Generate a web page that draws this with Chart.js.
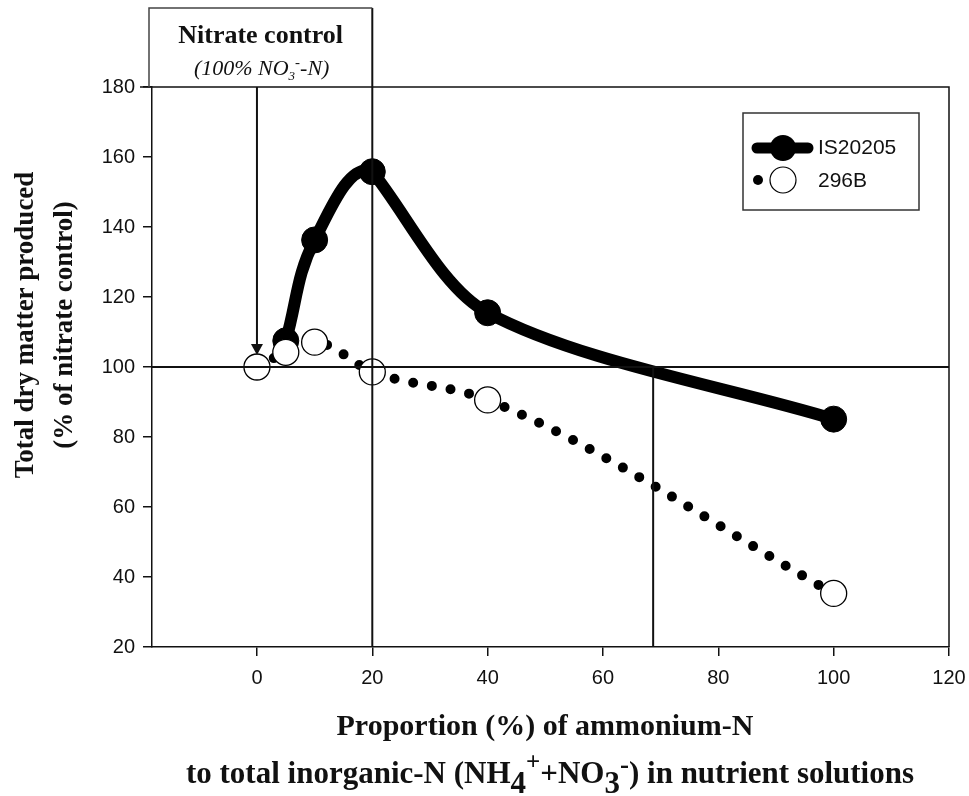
<!DOCTYPE html>
<html>
<head>
<meta charset="utf-8">
<script src="https://cdn.jsdelivr.net/npm/chart.js@4.4.1/dist/chart.umd.min.js"></script>
<style>
  html, body { margin: 0; padding: 0; background: #fff; }
  canvas { display: block; }
</style>
</head>
<body>
<canvas id="chart" width="969" height="796"></canvas>
<script>
// values
const proportionIS = [5, 10, 20, 40, 100];
const dryMatterIS = [107.5, 136.3, 155.8, 115.5, 85.1];
const proportion296 = [0, 5, 10, 20, 40, 100];
const dryMatter296 = [100, 104.2, 107.1, 98.6, 90.6, 35.3];
const seriesNames = ["IS20205", "296B"];
const xTicks = [0, 20, 40, 60, 80, 100, 120];
const yTicks = [20, 40, 60, 80, 100, 120, 140, 160, 180];
const controlLevel = 100;     // nitrate control = 100 %
const peakProportion = 20;    // vertical line through the peak
const crossProportion = 68.7; // IS20205 falls back to control level here
const peakIndex = 2;          // IS20205 curve is drawn in two pieces split at the peak

const SERIF = "'Liberation Serif', 'Times New Roman', serif";
const SANS = "'Liberation Sans', Arial, sans-serif";

// draws text pieces side by side (for sub/superscripts)
function drawRich(ctx, parts, x, y, align) {
  let total = 0;
  parts.forEach((p) => {
    ctx.font = p[1];
    total += ctx.measureText(p[0]).width;
  });
  let cx = align === "center" ? x - total / 2 : x;
  ctx.textAlign = "left";
  ctx.textBaseline = "alphabetic";
  parts.forEach((p) => {
    ctx.font = p[1];
    ctx.fillText(p[0], cx, y + (p[2] || 0));
    cx += ctx.measureText(p[0]).width;
  });
}

const overlay = {
  id: "overlay",
  beforeDraw(chart) {
    const ctx = chart.ctx;
    ctx.save();
    ctx.fillStyle = "#fff";
    ctx.fillRect(0, 0, chart.width, chart.height);
    ctx.restore();
  },
  afterDatasetsDraw(chart) {
    const ctx = chart.ctx;
    const area = chart.chartArea;
    const xs = chart.scales.x;
    const ys = chart.scales.y;
    const y100 = ys.getPixelForValue(controlLevel);
    const x0 = xs.getPixelForValue(0);
    const x20 = xs.getPixelForValue(peakProportion);
    const xCross = xs.getPixelForValue(crossProportion);

    ctx.save();
    ctx.strokeStyle = "#111";
    ctx.lineWidth = 1.5;

    // frame top and right
    ctx.beginPath();
    ctx.moveTo(area.left - 12, area.top);
    ctx.lineTo(area.right, area.top);
    ctx.lineTo(area.right, area.bottom);
    ctx.stroke();

    // reference lines
    ctx.lineWidth = 2;
    ctx.beginPath();
    ctx.moveTo(area.left, y100);
    ctx.lineTo(area.right, y100);
    ctx.moveTo(x20, 8);
    ctx.lineTo(x20, area.bottom);
    ctx.moveTo(xCross, y100);
    ctx.lineTo(xCross, area.bottom);
    ctx.stroke();

    // nitrate control box
    ctx.strokeStyle = "#444";
    ctx.lineWidth = 1.5;
    ctx.beginPath();
    ctx.moveTo(x20, 8);
    ctx.lineTo(149, 8);
    ctx.lineTo(149, area.top);
    ctx.stroke();
    ctx.fillStyle = "#111";
    ctx.font = "bold 26px " + SERIF;
    ctx.textAlign = "center";
    ctx.fillText("Nitrate control", (149 + x20) / 2, 43);
    drawRich(ctx, [
      ["(100% NO", "italic 22px " + SERIF],
      ["3", "italic 13px " + SERIF, 5],
      ["-", "italic 15px " + SERIF, -8],
      ["-N)", "italic 22px " + SERIF]
    ], (149 + x20) / 2 + 1, 75, "center");

    // arrow down to the control point
    const tip = y100 - 12;
    ctx.strokeStyle = "#111";
    ctx.lineWidth = 2;
    ctx.beginPath();
    ctx.moveTo(x0, area.top);
    ctx.lineTo(x0, tip - 10);
    ctx.stroke();
    ctx.beginPath();
    ctx.moveTo(x0 - 6, tip - 11);
    ctx.lineTo(x0 + 6, tip - 11);
    ctx.lineTo(x0, tip);
    ctx.closePath();
    ctx.fill();

    // legend
    ctx.fillStyle = "#fff";
    ctx.fillRect(743, 113, 176, 97);
    ctx.strokeStyle = "#333";
    ctx.lineWidth = 1.5;
    ctx.strokeRect(743, 113, 176, 97);
    ctx.strokeStyle = "#000";
    ctx.lineWidth = 11;
    ctx.lineCap = "round";
    ctx.beginPath();
    ctx.moveTo(757, 148);
    ctx.lineTo(808, 148);
    ctx.stroke();
    ctx.fillStyle = "#000";
    ctx.beginPath();
    ctx.arc(783, 148, 13, 0, Math.PI * 2);
    ctx.fill();
    ctx.beginPath();
    ctx.arc(758, 180, 5, 0, Math.PI * 2);
    ctx.fill();
    ctx.lineWidth = 1.2;
    ctx.fillStyle = "#fff";
    ctx.beginPath();
    ctx.arc(783, 180, 13, 0, Math.PI * 2);
    ctx.fill();
    ctx.stroke();
    ctx.fillStyle = "#111";
    ctx.font = "21px " + SANS;
    ctx.textAlign = "left";
    ctx.textBaseline = "middle";
    ctx.fillText(seriesNames[0], 818, 148);
    ctx.fillText(seriesNames[1], 818, 181);

    // axis titles
    ctx.textBaseline = "alphabetic";
    ctx.textAlign = "center";
    ctx.font = "bold 27px " + SERIF;
    ctx.save();
    ctx.translate(33, 325);
    ctx.rotate(-Math.PI / 2);
    ctx.fillText("Total dry matter produced", 0, 0);
    ctx.restore();
    ctx.save();
    ctx.translate(72, 325);
    ctx.rotate(-Math.PI / 2);
    ctx.fillText("(% of nitrate control)", 0, 0);
    ctx.restore();

    ctx.font = "bold 30px " + SERIF;
    ctx.fillText("Proportion (%) of ammonium-N", 545, 735);
    const b31 = "bold 31px " + SERIF;
    drawRich(ctx, [
      ["to total inorganic-N (NH", b31],
      ["4", b31, 10],
      ["+", "bold 25px " + SERIF, -13],
      ["+NO", b31],
      ["3", b31, 10],
      ["-", "bold 27px " + SERIF, -10],
      [") in nutrient solutions", b31]
    ], 550, 783, "center");
    ctx.restore();
  }
};

const axisGrid = {
  drawOnChartArea: false,
  drawTicks: true,
  tickLength: 9,
  color: "#111",
  lineWidth: 1.5
};

const hidden = "rgba(0,0,0,0)";

new Chart(document.getElementById("chart"), {
  type: "line",
  data: {
    datasets: [
      {
        // IS20205 markers and the rising part up to the peak
        label: seriesNames[0],
        data: proportionIS.map((x, i) => ({ x, y: dryMatterIS[i] })),
        borderColor: "#000",
        borderWidth: 12,
        pointRadius: 13,
        pointBackgroundColor: "#000",
        pointBorderColor: "#000",
        pointBorderWidth: 1,
        tension: 0.4,
        segment: {
          borderColor: (c) => (c.p0DataIndex >= peakIndex ? hidden : undefined)
        },
        fill: false,
        order: 1
      },
      {
        // IS20205 falling part after the peak
        label: seriesNames[0],
        data: proportionIS.slice(peakIndex).map((x, i) => ({ x, y: dryMatterIS[peakIndex + i] })),
        borderColor: "#000",
        borderWidth: 12,
        pointRadius: 0,
        tension: 0.3,
        fill: false,
        order: 2
      },
      {
        label: seriesNames[1],
        data: proportion296.map((x, i) => ({ x, y: dryMatter296[i] })),
        borderColor: "#000",
        borderWidth: 10,
        borderDash: [0, 19],
        borderCapStyle: "round",
        pointRadius: 13,
        pointBackgroundColor: "#fff",
        pointBorderColor: "#000",
        pointBorderWidth: 1.3,
        cubicInterpolationMode: "monotone",
        fill: false,
        order: 0
      }
    ]
  },
  options: {
    responsive: false,
    animation: false,
    events: [],
    layout: { padding: { top: 87, right: 20, left: 0, bottom: 0 } },
    plugins: { legend: { display: false }, tooltip: { enabled: false } },
    scales: {
      x: {
        type: "linear",
        bounds: "data",
        min: -18.2,
        max: 120,
        afterBuildTicks: (s) => { s.ticks = xTicks.map((v) => ({ value: v })); },
        afterFit: (s) => {
          s.height = 149;
          s.paddingLeft = 0;
          s.paddingRight = 0;
        },
        grid: axisGrid,
        border: { color: "#111", width: 1.5 },
        ticks: {
          font: { family: SANS, size: 20 },
          color: "#111",
          padding: 10,
          maxRotation: 0,
          autoSkip: false
        }
      },
      y: {
        type: "linear",
        bounds: "data",
        min: 20,
        max: 180,
        afterBuildTicks: (s) => { s.ticks = yTicks.map((v) => ({ value: v })); },
        afterFit: (s) => {
          s.width = 152;
          s.paddingTop = 0;
          s.paddingBottom = 0;
        },
        grid: axisGrid,
        border: { color: "#111", width: 1.5 },
        ticks: {
          font: { family: SANS, size: 20 },
          color: "#111",
          padding: 8,
          autoSkip: false
        }
      }
    }
  },
  plugins: [overlay]
});
</script>
</body>
</html>
